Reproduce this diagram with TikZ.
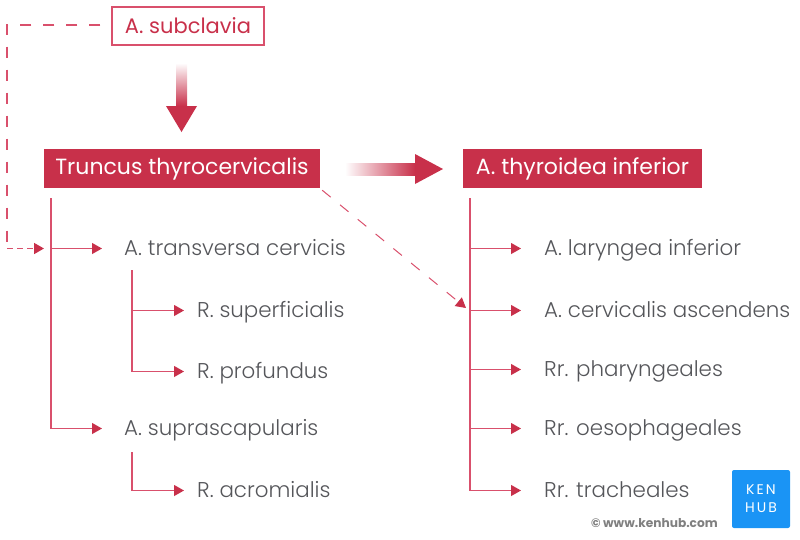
\documentclass[tikz,border=0pt]{standalone}
\usepackage{fontspec}
\setmainfont{Poppins Light}
\newfontfamily\boxfont{Poppins}
\usetikzlibrary{arrows.meta,positioning}
\definecolor{kenred}{HTML}{C8304A}
\definecolor{kenline}{HTML}{D9506C}
\definecolor{kengray}{HTML}{55565A}
\definecolor{kenblue}{HTML}{1A94F5}
\begin{document}
\begin{tikzpicture}[x=1pt,y=-1pt,node distance=59pt,>={Triangle[length=10pt,width=11pt,color=kenred]}]

	\tikzstyle{leaf}=[anchor=west,inner sep=0pt,text=kengray,font=\fontsize{21.4}{24}\selectfont,text height=16pt,text depth=2pt]
	\tikzstyle{head}=[rectangle,fill=kenred,text=white,inner sep=0pt,minimum height=39pt,font=\boxfont\fontsize{22}{24}\selectfont]
	\tikzstyle{branch}=[kenline,line width=1.1pt,->]
	\tikzstyle{link}=[kenline,line width=1.3pt,dash pattern=on 11pt off 12pt]

	\useasboundingbox (0,0) rectangle (800,539);

	\node [rectangle,draw=kenline,line width=1.1pt,text=kenred,inner sep=0pt,minimum width=152pt,minimum height=38pt,font=\boxfont\fontsize{21}{24}\selectfont] (subclavia) at (188,26) {A. subclavia};
	\node [head,minimum width=276pt] (truncus) at (182,168.5) {Truncus thyrocervicalis};
	\node [head,minimum width=239pt] (thyroidea) at (582.5,168.5) {A. thyroidea inferior};

	\node [leaf] (transversa) at (124,248.5) {A. transversa cervicis};
	\node [leaf] (superficialis) at (197,310.5) {R. superficialis};
	\node [leaf,below=61pt of superficialis.west,anchor=west] (profundus) {R. profundus};
	\node [leaf,below=180pt of transversa.west,anchor=west] (suprascapularis) {A. suprascapularis};
	\node [leaf,below=62pt of suprascapularis.west,xshift=73pt,anchor=west] (acromialis) {R. acromialis};

	\node [leaf] (laryngea) at (544,248.5) {A. laryngea inferior};
	\node [leaf,below=62pt of laryngea.west,anchor=west] (cervicalis) {A. cervicalis ascendens};
	\node [leaf,below=of cervicalis.west,anchor=west] (pharyngeales) {Rr. pharyngeales};
	\node [leaf,below=of pharyngeales.west,anchor=west] (oesophageales) {Rr. oesophageales};
	\node [leaf,below=62pt of oesophageales.west,anchor=west] (tracheales) {Rr. tracheales};

	\coordinate (trunkl) at (51,198);
	\coordinate (trunkm) at (132,270);
	\coordinate (trunks) at (132,452);
	\coordinate (trunkr) at (470,198);
	\coordinate (bendtop) at (7,25);
	\coordinate (bendlow) at (7,248.5);
	\coordinate (linkend) at (44,248.5);
	\coordinate (diagend) at (466,308);

	% left tree
	\draw [branch,shorten >=22pt] (trunkl) |- (transversa.west);
	\draw [branch,shorten >=22pt] (trunkl) |- (suprascapularis.west);
	\draw [branch,shorten >=13pt] (trunkm) |- (superficialis.west);
	\draw [branch,shorten >=13pt] (trunkm) |- (profundus.west);
	\draw [branch,shorten >=13pt] (trunks) |- (acromialis.west);

	% right tree
	\foreach \leafname in {laryngea,cervicalis,pharyngeales,oesophageales,tracheales}
		\draw [branch,shorten >=23pt] (trunkr) |- (\leafname.west);

	% dashed links
	\draw [link,shorten <=11pt] (subclavia.west |- bendtop) -- (bendtop) -- (bendlow);
	\draw [link,line width=1.6pt,dash pattern=on 6pt off 4pt,->] (bendlow) -- (linkend);
	\draw [link,line width=1pt,->] (truncus.south east) ++(2,2) coordinate (diagstart) (diagstart) -- (diagend);

	% fading arrows
	\shade [top color=white,bottom color=kenred] (176,63) rectangle (187,106);
	\fill [kenred] (166,106) -- (197,106) -- (181.5,132) -- cycle;
	\shade [left color=white,right color=kenred] (345,163) rectangle (415,175);
	\fill [kenred] (415,154) -- (443,169) -- (415,184) -- cycle;

	% logo
	\node [rectangle,rounded corners=2pt,fill=kenblue,text=white,inner sep=0pt,minimum size=58pt,align=center,font=\boxfont\fontsize{14}{18}\selectfont\addfontfeature{LetterSpace=15}] (logo) at (761,499) {KEN\\HUB};
	\node [inner sep=0pt,anchor=east,text=gray,font=\boxfont\bfseries\fontsize{12.2}{14}\selectfont] (site) at (718,523) {© www.kenhub.com};
\end{tikzpicture}
\end{document}
